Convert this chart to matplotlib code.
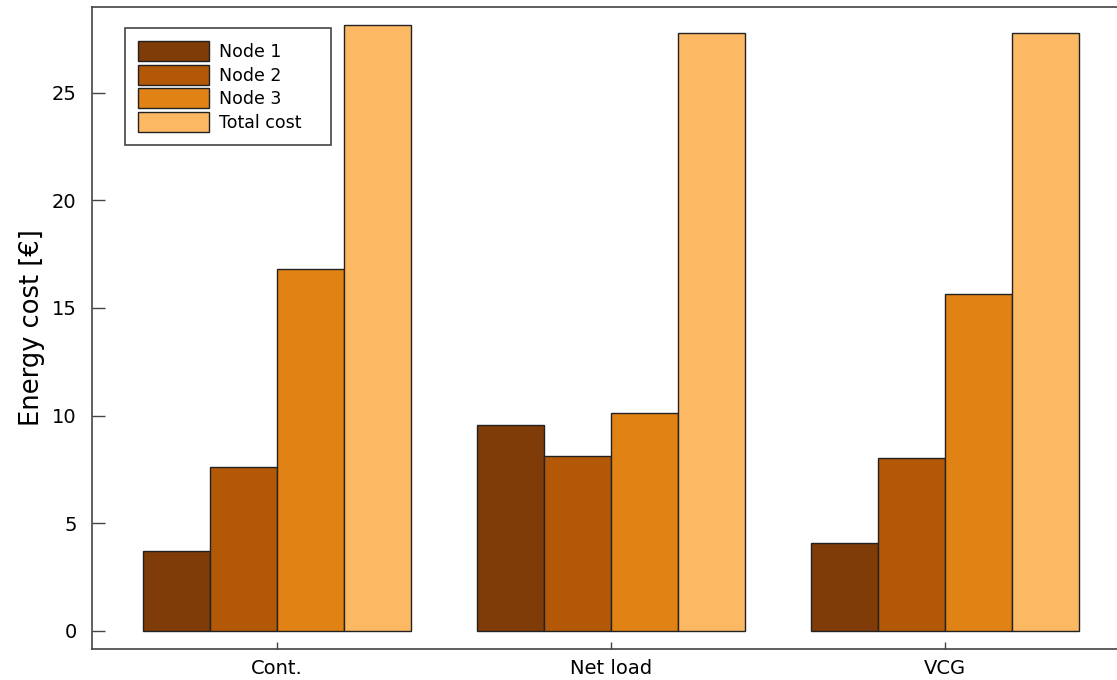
import numpy as np
import matplotlib.pyplot as plt
from matplotlib.patches import Patch

categories = ['Cont.', 'Net load', 'VCG']
series_names = ['Node 1', 'Node 2', 'Node 3', 'Total cost']
node1 = [3.72, 9.57, 4.09]
node2 = [7.62, 8.13, 8.04]
node3 = [16.81, 10.13, 15.65]
total = [28.15, 27.78, 27.78]
colors = ['#7f3b08', '#b35806', '#e08214', '#fdb863']

fig = plt.figure(figsize=(11.17, 6.8), dpi=100)
ax = fig.add_axes([92/1117, 1 - 649/680, 1 - 92/1117, (649 - 7)/680])

x = np.arange(1, len(categories) + 1)
w = 0.2
for i, (vals, c) in enumerate(zip([node1, node2, node3, total], colors)):
    ax.bar(x + (i - 1.5) * w, vals, width=w, color=c, edgecolor='#222222',
           linewidth=1.0, label=series_names[i])

ax.set_xlim(0.446, 3.515)
ax.set_ylim(-0.84, 28.98)
ax.set_xticks(x)
ax.set_xticklabels(categories)
ax.set_yticks([0, 5, 10, 15, 20, 25])
ax.tick_params(axis='y', direction='in', length=9, width=1, labelsize=14, color='#444444', pad=11)
ax.tick_params(axis='x', direction='in', length=5, width=1, labelsize=14, color='#444444', pad=7)
for s in ['left', 'bottom', 'top']:
    ax.spines[s].set_color('#444444')
    ax.spines[s].set_linewidth(1.2)
ax.spines['right'].set_visible(False)
ax.set_ylabel('Energy cost [€]', fontsize=18.5)
ax.yaxis.set_label_coords(-0.046, 0.5)

# extra room on the right of the legend text, as in the original
handles = [Patch(facecolor=c, edgecolor='#222222', linewidth=1.0) for c in colors]
labels = [s + '   ' for s in series_names]
leg = ax.legend(handles, labels, loc='upper left', bbox_to_anchor=(0.0322, 0.967),
                borderaxespad=0, fontsize=12.5, fancybox=False, framealpha=1,
                edgecolor='#444444', handlelength=4.1, handleheight=1.4,
                labelspacing=0.2, handletextpad=0.55, borderpad=0.75)
leg.get_frame().set_linewidth(1.2)

fig.savefig('out.png', dpi=100)
